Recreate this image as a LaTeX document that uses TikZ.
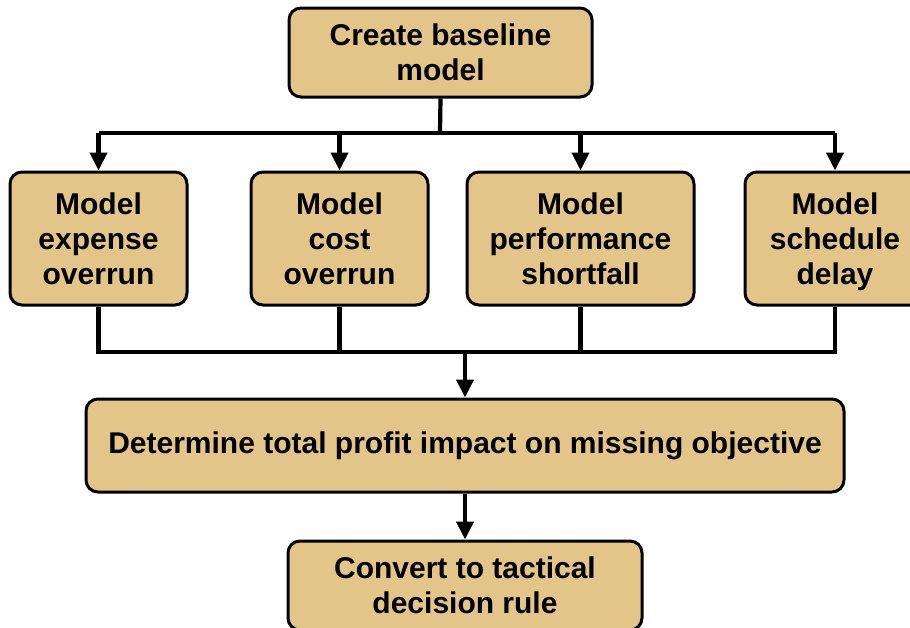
\documentclass[tikz,border=0pt]{standalone}
\usepackage{fontspec}
\setmainfont{Liberation Sans}
\usetikzlibrary{arrows.meta}
\definecolor{boxtan}{HTML}{E3C58A}
\begin{document}
\begin{tikzpicture}[x=1pt,y=-1pt,
  stepbox/.style={draw=black, line width=3pt, fill=boxtan, rounded corners=12pt,
    font=\bfseries\fontsize{30}{35}\selectfont, align=center, inner sep=0pt},
  link/.style={line width=4.2pt},
  arr/.style={line width=4.2pt, -{Triangle[length=18pt,width=17pt]}}]
\useasboundingbox (0,0) rectangle (910,627);
\clip (0,0) rectangle (910,627);
\fill[white] (0,0) rectangle (910,627);

% nodes
\node[stepbox, minimum width=303pt, minimum height=89pt] (top) at (440.5,52.5) {Create baseline\\model};
\node[stepbox, minimum width=177pt, minimum height=133pt] (b1) at (98.5,238.5) {Model\\expense\\overrun};
\node[stepbox, minimum width=177pt, minimum height=133pt] (b2) at (339.5,238.5) {Model\\cost\\overrun};
\node[stepbox, minimum width=227pt, minimum height=133pt] (b3) at (580.5,238.5) {Model\\performance\\shortfall};
\node[stepbox, minimum width=180pt, minimum height=133pt] (b4) at (835,238.5) {Model\\schedule\\\raisebox{0pt}[\height][0pt]{delay}};
\node[stepbox, minimum width=758pt, minimum height=93pt] (mid) at (465,445.5) {Determine total profit impact on missing objective};
\node[stepbox, minimum width=354pt, minimum height=89pt] (bot) at (465,585.5) {Convert to tactical\\decision rule};

% fan-out from the baseline model
\coordinate (busA) at (440,133);
\draw[link] (top.south) -- (busA);
\draw[link] (b1.north |- busA) -- (b4.north |- busA);
\foreach \b in {b1,b2,b3,b4}
  \draw[arr] (\b.north |- busA) -- (\b.north);

% fan-in to the profit impact
\coordinate (busB) at (465,352);
\draw[link] (b1.south) -- (b1.south |- busB) -- (b4.south |- busB) -- (b4.south);
\draw[link] (b2.south) -- (b2.south |- busB);
\draw[link] (b3.south) -- (b3.south |- busB);
\draw[arr] (busB) -- (mid.north);
\draw[arr] (mid.south) -- (bot.north);
\end{tikzpicture}
\end{document}
